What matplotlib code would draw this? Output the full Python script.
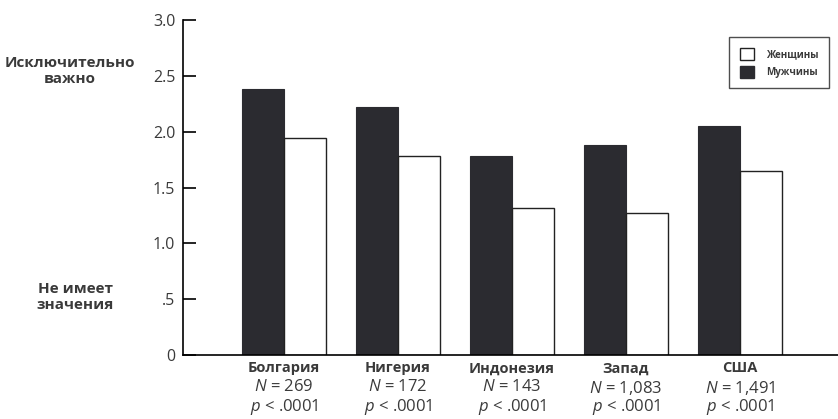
import matplotlib
matplotlib.use('Agg')
import matplotlib.pyplot as plt
from matplotlib.patches import Patch

plt.rcParams['font.family'] = ['Open Sans', 'DejaVu Sans']
plt.rcParams['mathtext.fontset'] = 'custom'
plt.rcParams['mathtext.it'] = 'Open Sans:italic'
plt.rcParams['mathtext.rm'] = 'Open Sans'

# данные
countries = ['Болгария', 'Нигерия', 'Индонезия', 'Запад', 'США']
n_values = ['269', '172', '143', '1,083', '1,491']
p_values = ['.0001', '.0001', '.0001', '.0001', '.0001']
men = [2.38, 2.22, 1.78, 1.88, 2.05]
women = [1.94, 1.78, 1.32, 1.27, 1.65]
yticks = [0, 0.5, 1.0, 1.5, 2.0, 2.5, 3.0]
yticklabels = ['0', '.5', '1.0', '1.5', '2.0', '2.5', '3.0']

dark = '#2b2b30'
txt = '#3a3a3a'
w = 0.37
x = list(range(len(countries)))

fig = plt.figure(figsize=(8.38, 4.19), dpi=100)
ax = fig.add_axes([183/838, 64/419, 655/838, 335/419])

ax.bar([i - w/2 for i in x], men, width=w, color=dark, edgecolor=dark, linewidth=0.8)
ax.bar([i + w/2 for i in x], women, width=w, color='white', edgecolor='#222222', linewidth=1.0)

ax.set_xlim(-0.886, 4.86)
ax.set_ylim(0, 3.0)
ax.spines['top'].set_visible(False)
ax.spines['right'].set_visible(False)
ax.spines['left'].set_linewidth(1.2)
ax.spines['bottom'].set_linewidth(1.2)

ax.set_yticks(yticks)
ax.set_yticklabels(yticklabels, fontsize=11.5, color=txt)
ax.tick_params(axis='y', direction='in', length=9, width=1.2, pad=5.5)

ax.set_xticks(x)
ax.set_xticklabels(countries, fontsize=10.5, fontweight='bold', color=txt)
ax.tick_params(axis='x', length=0, pad=4.5)

# подписи N и p под странами
for i in x:
    ax.annotate(r'$N$ = ' + n_values[i], xy=(i, 0), xycoords=('data', 'axes fraction'),
                xytext=(0, -17.5), textcoords='offset points', ha='center', va='top',
                fontsize=12, color=txt)
    ax.annotate(r'$p$ < ' + p_values[i], xy=(i, 0), xycoords=('data', 'axes fraction'),
                xytext=(0, -30.5), textcoords='offset points', ha='center', va='top',
                fontsize=12, color=txt)

# подписи шкалы слева
fig.text(70/838, 1 - 71/419, 'Исключительно\nважно', ha='center', va='center',
         fontsize=11, fontweight='bold', color=txt, linespacing=1.1)
fig.text(75/838, 1 - 297/419, 'Не имеет\nзначения', ha='center', va='center',
         fontsize=11, fontweight='bold', color=txt, linespacing=1.1)

handles = [Patch(facecolor='white', edgecolor='#222222', label='Женщины'),
           Patch(facecolor=dark, edgecolor=dark, label='Мужчины')]
leg = ax.legend(handles=handles, loc='upper right', bbox_to_anchor=(829/838, 1 - 37/419),
                bbox_transform=fig.transFigure, borderaxespad=0, fancybox=False,
                prop={'weight': 'bold', 'size': 7}, handlelength=1.5, handleheight=1.5,
                borderpad=1.1, labelspacing=0.6, handletextpad=1.2, edgecolor='#222222')
leg.get_frame().set_linewidth(1.0)
for t in leg.get_texts():
    t.set_color(txt)

fig.savefig('out.png', dpi=100)
